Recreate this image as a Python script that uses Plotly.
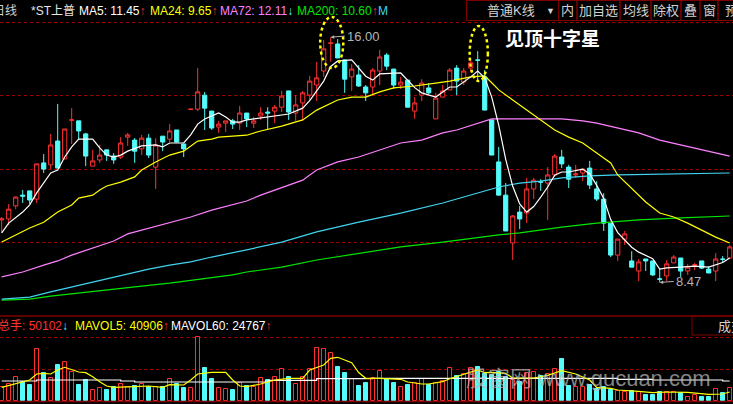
import plotly.graph_objects as go

W, H = 733, 404

RED = "#ff3232"
CYAN = "#54fcfc"
GRID = "#990000"
FRAME = "#800000"
TXT = "#d2d2d2"
FONT = "Liberation Sans, Noto Sans CJK SC, sans-serif"

# daily candles
days = list(range(105))
opens = [10.39, 10.42, 10.82, 11.15, 11.28, 11.03, 12.14, 12.08, 12.81, 12.26,
         13.45, 13.43, 13.03, 12.04, 12.23, 12.54, 12.35, 12.32, 12.93, 12.84,
         12.57, 12.90, 12.01, 12.96, 12.87, 13.15, 12.72, 13.78, 13.79, 14.22,
         13.73, 13.24, 13.36, 13.43, 13.36, 13.67, 13.36, 13.58, 13.70, 13.73,
         13.85, 14.35, 13.67, 13.98, 14.22, 14.53, 14.96, 15.81, 15.79, 15.30,
         14.78, 14.84, 14.47, 14.47, 14.96, 15.45, 15.02, 14.53, 14.68, 13.73,
         14.22, 14.44, 13.49, 14.16, 14.38, 15.05, 14.62, 15.05, 15.30, 14.78,
         13.46, 12.17, 11.15, 9.68, 10.63, 10.60, 11.34, 11.56, 11.52, 11.77,
         12.32, 12.01, 11.77, 11.83, 11.98, 11.34, 11.03, 10.29, 9.31, 9.80,
         9.13, 8.82, 9.19, 9.13, 8.58, 8.67, 9.07, 9.22, 8.82, 9.00,
         9.13, 8.88, 8.82, 9.19, 9.22]
highs = [10.48, 10.88, 11.12, 11.31, 11.28, 12.11, 12.41, 13.03, 13.95, 13.18,
         13.82, 13.43, 13.06, 12.54, 12.69, 12.54, 12.44, 12.93, 13.06, 12.90,
         13.00, 13.03, 12.90, 12.96, 13.33, 13.15, 12.72, 13.79, 15.05, 14.32,
         13.73, 13.43, 13.43, 13.49, 13.89, 13.67, 13.55, 13.85, 13.85, 13.92,
         14.35, 14.35, 14.22, 14.35, 14.81, 15.24, 15.91, 16.00, 15.94, 15.30,
         15.17, 15.14, 14.53, 15.05, 15.61, 15.51, 15.02, 14.78, 14.68, 14.16,
         14.71, 14.59, 14.29, 14.53, 15.05, 15.14, 15.05, 15.33, 15.57, 14.99,
         13.46, 12.63, 11.52, 10.54, 10.82, 11.68, 11.68, 11.64, 12.01, 12.41,
         12.54, 12.08, 12.08, 11.95, 12.20, 11.58, 11.21, 10.29, 9.80, 10.05,
         9.43, 9.19, 9.19, 9.13, 8.88, 9.16, 9.31, 9.22, 9.04, 9.07,
         9.13, 8.97, 9.37, 9.28, 9.62]
lows = [9.99, 10.23, 10.72, 10.91, 10.88, 10.91, 11.83, 11.95, 11.98, 12.26,
        12.72, 12.87, 12.04, 12.04, 12.14, 12.20, 12.11, 12.26, 12.66, 12.14,
        12.38, 12.29, 11.34, 12.50, 12.78, 12.78, 12.32, 13.78, 13.73, 13.15,
        13.15, 13.06, 13.09, 13.18, 13.15, 13.24, 13.21, 13.46, 13.18, 13.36,
        13.70, 13.46, 13.43, 13.43, 14.07, 14.04, 14.78, 15.24, 15.36, 14.29,
        14.35, 14.47, 14.04, 14.22, 14.53, 14.99, 14.41, 14.41, 13.85, 13.49,
        14.04, 14.25, 13.49, 14.16, 14.38, 14.22, 14.53, 14.93, 14.68, 13.76,
        12.38, 11.15, 10.05, 9.16, 10.11, 10.29, 11.03, 11.28, 10.39, 11.71,
        11.98, 11.37, 11.68, 11.58, 11.34, 10.97, 10.05, 9.25, 9.13, 9.62,
        8.94, 8.51, 8.82, 8.67, 8.47, 8.51, 9.07, 8.64, 8.70, 8.85,
        8.88, 8.76, 8.51, 9.07, 9.19]
closes = [10.42, 10.72, 11.09, 11.12, 11.00, 12.11, 11.95, 12.69, 11.98, 13.18,
          13.46, 13.12, 12.35, 12.20, 12.38, 12.38, 12.23, 12.75, 13.00, 12.50,
          12.90, 12.38, 12.69, 12.78, 13.12, 12.78, 12.57, 13.79, 14.32, 13.82,
          13.21, 13.33, 13.43, 13.33, 13.67, 13.49, 13.43, 13.67, 13.67, 13.85,
          14.19, 13.70, 13.92, 14.29, 14.65, 14.75, 15.64, 15.82, 15.36, 14.71,
          15.02, 14.50, 14.29, 14.99, 15.39, 15.11, 14.53, 14.62, 13.85, 13.98,
          14.59, 14.29, 14.13, 14.35, 14.99, 14.65, 14.96, 15.21, 15.29, 13.76,
          12.38, 11.15, 10.05, 10.51, 10.42, 11.34, 11.61, 11.55, 11.77, 12.35,
          12.11, 11.64, 11.80, 11.95, 11.46, 11.03, 10.29, 9.31, 9.80, 9.96,
          8.94, 9.10, 9.13, 8.70, 8.57, 9.04, 9.25, 8.82, 8.94, 9.01,
          8.91, 8.76, 9.19, 9.18, 9.56]
volumes = [14300, 17000, 24300, 19300, 16000, 51700, 27700, 22700, 36000, 38700,
           29000, 16000, 21300, 10700, 12700, 11000, 13700, 17000, 14300, 15000,
           17000, 14300, 13700, 13700, 21700, 17000, 13000, 13300, 63700, 32700,
           22000, 12700, 11700, 11000, 18000, 14700, 13700, 22700, 21000, 23700,
           31700, 23700, 17000, 24300, 31700, 52700, 51700, 47700, 33700, 28000,
           21700, 15000, 18000, 22700, 30000, 21700, 18300, 13700, 16000, 18300,
           21700, 16300, 17700, 20300, 32700, 25000, 27000, 32700, 34300, 27000,
           26000, 29300, 24300, 21000, 19300, 27700, 28700, 25000, 27000, 31700,
           42000, 15000, 13700, 13700, 16000, 12000, 13700, 11000, 10000, 9000,
           10300, 9000, 6000, 6000, 9300, 9300, 9300, 7700, 4300, 5700,
           3700, 4300, 11700, 7700, 12700]

# moving averages, sampled where they could be read
ma5_days = [0, 1, 3, 4, 5, 6, 7, 8, 9, 10, 11, 13, 14, 15, 16, 17, 18, 20, 22, 23,
            24, 26, 27, 28, 29, 31, 32, 33, 34, 35, 37, 39, 41, 43, 44, 45, 46, 47, 48, 50,
            51, 52, 53, 54, 57, 59, 60, 62, 64, 65, 67, 68, 69, 70, 71, 72, 73, 74, 75, 76,
            77, 78, 79, 80, 81, 83, 84, 85, 86, 87, 88, 90, 91, 93, 94, 95, 97, 99, 101, 103,
            104]
ma5 = [9.99, 10.29, 10.63, 10.85, 11.22, 11.52, 11.83, 11.92, 12.32, 12.63,
       12.87, 12.87, 12.60, 12.38, 12.32, 12.38, 12.50, 12.66, 12.69, 12.63,
       12.75, 12.75, 13.00, 13.33, 13.49, 13.67, 13.55, 13.39, 13.39, 13.46,
       13.52, 13.58, 13.64, 13.82, 14.05, 14.35, 14.65, 15.10, 15.27, 15.30,
       15.05, 14.80, 14.68, 14.87, 14.90, 14.45, 14.29, 14.16, 14.47, 14.47,
       14.78, 14.96, 14.75, 14.16, 13.30, 12.25, 11.42, 10.88, 10.63, 10.80,
       11.09, 11.40, 11.76, 11.86, 11.86, 11.95, 11.80, 11.45, 11.05, 10.40,
       10.00, 9.55, 9.40, 9.20, 8.88, 8.92, 8.94, 8.97, 8.94, 9.08,
       9.22]
ma24_days = [0, 3, 4, 6, 7, 8, 10, 11, 13, 14, 15, 17, 19, 20, 22, 24, 26, 27, 28, 30,
             31, 33, 35, 37, 40, 43, 45, 48, 50, 52, 54, 56, 59, 62, 64, 67, 69, 70, 71, 73,
             75, 77, 79, 81, 83, 85, 87, 88, 90, 92, 94, 96, 98, 100, 102, 104]
ma24 = [9.71, 10.02, 10.14, 10.32, 10.48, 10.63, 10.85, 11.06, 11.15, 11.31,
        11.43, 11.55, 11.71, 11.92, 12.17, 12.38, 12.50, 12.66, 12.81, 12.87,
        12.93, 12.96, 12.99, 13.12, 13.27, 13.46, 13.76, 14.07, 14.16, 14.16,
        14.32, 14.44, 14.50, 14.59, 14.65, 14.78, 14.81, 14.60, 14.38, 14.07,
        13.76, 13.46, 13.15, 12.93, 12.75, 12.44, 12.14, 11.77, 11.37, 10.94,
        10.60, 10.48, 10.29, 10.08, 9.86, 9.68]
ma72_days = [0, 3, 6, 8, 10, 13, 16, 18, 21, 24, 27, 30, 33, 35, 37, 40, 43, 45, 48, 51,
             54, 57, 60, 63, 65, 68, 70, 80, 83, 85, 88, 91, 94, 97, 100, 103, 104]
ma72 = [8.64, 8.79, 9.00, 9.13, 9.31, 9.53, 9.74, 9.96, 10.14, 10.32,
        10.48, 10.69, 10.85, 10.97, 11.15, 11.37, 11.61, 11.92, 12.17, 12.32,
        12.54, 12.75, 12.84, 13.06, 13.15, 13.36, 13.49, 13.49, 13.43, 13.36,
        13.21, 13.06, 12.84, 12.69, 12.54, 12.41, 12.35]
ma120_days = [0, 4, 7, 10, 13, 16, 18, 21, 24, 27, 30, 33, 35, 40, 45, 51, 57, 63, 68, 71,
              74, 77, 80, 84, 88, 96, 104]
ma120 = [7.96, 8.02, 8.18, 8.33, 8.48, 8.61, 8.73, 8.88, 9.00, 9.10,
         9.25, 9.37, 9.47, 9.71, 10.02, 10.32, 10.60, 10.91, 11.21, 11.40,
         11.52, 11.58, 11.68, 11.74, 11.77, 11.80, 11.83]
ma200_days = [0, 4, 7, 11, 16, 20, 24, 28, 33, 35, 40, 45, 51, 57, 63, 68, 71, 74, 80, 85,
              91, 97, 104]
ma200 = [7.93, 7.96, 8.05, 8.15, 8.27, 8.36, 8.45, 8.57, 8.70, 8.79,
         8.94, 9.16, 9.37, 9.56, 9.71, 9.86, 9.93, 9.99, 10.17, 10.29,
         10.39, 10.45, 10.51]

mavol5_days = [0, 2, 4, 5, 6, 7, 8, 9, 10, 11, 12, 13, 14, 15, 16, 17, 19, 21, 23, 24,
               26, 27, 28, 30, 32, 33, 34, 35, 37, 39, 41, 43, 44, 46, 47, 48, 50, 51, 52, 54,
               57, 58, 60, 61, 63, 64, 65, 67, 68, 69, 70, 72, 73, 76, 78, 80, 82, 84, 85, 87,
               88, 91, 93, 95, 98, 101, 103, 104]
mavol5 = [13700, 17000, 21000, 27000, 27700, 27000, 31000, 33700, 31000, 29000,
          28300, 24300, 19300, 15000, 13700, 13700, 14300, 15000, 13700, 16300,
          16000, 21000, 27000, 28700, 28700, 21000, 15000, 14300, 17000, 21000,
          22700, 22700, 31000, 36000, 42700, 43700, 38300, 28500, 22700, 22700,
          21700, 19000, 17000, 17000, 19300, 22300, 24300, 28300, 31000, 28300,
          28700, 27700, 23000, 23000, 25700, 30300, 27000, 21000, 13700, 12700,
          11000, 9700, 8300, 9000, 8700, 6700, 7000, 9000]
mavol60_days = [0, 5, 17, 19, 38, 45, 53, 88, 93, 103, 104]
mavol60 = [20000, 21000, 20000, 19000, 20700, 22300, 22700, 21700, 21000, 20000, 20000]

price_grid = [16.46, 14.22, 11.95, 9.71]
price_range = [7.44, 17.14]
vol_grid = [32000, 64000]
vol_range = [0, 85000]

header_items = [
    (77, "MA5: 11.45", "#ffffff", "↑", RED),
    (148, "MA24: 9.65", "#ffff00", "↑", RED),
    (218, "MA72: 12.11", "#ff80ff", "↓", CYAN),
    (295, "MA200: 10.60", "#00e600", "↑", RED),
]
vol_header_items = [
    (-4, "总手: 50102", RED, "↓", CYAN),
    (73, "MAVOL5: 40906", "#ffff00", "↑", RED),
    (169, "MAVOL60: 24767", "#ffffff", "↑", RED),
]
buttons = [(466.5, 558.5, ""), (558.5, 577, "内"), (577, 620, "加自选"), (620, 651, "均线"),
           (651, 681, "除权"), (681, 700, "叠"), (700, 718, "窗"), (718, 745, "预")]


def px(x):
	return x / W


def py(y):
	return 1 - y / H


def label(x, y, text, color, size=12, anchor="left", ref="paper"):
	if ref == "paper":
		x, y = px(x), py(y)
	return dict(x=x, y=y, xref="paper", yref="paper", text=text, showarrow=False,
	            xanchor=anchor, yanchor="middle",
	            font=dict(family=FONT, size=size, color=color))


def build():
	fig = go.Figure()

	fig.add_trace(go.Candlestick(
		x=days, open=opens, high=highs, low=lows, close=closes,
		increasing=dict(line=dict(color=RED, width=1), fillcolor="black"),
		decreasing=dict(line=dict(color=CYAN, width=1), fillcolor=CYAN),
		whiskerwidth=0, hoverinfo="skip", xaxis="x", yaxis="y"))

	for xs, ys, col in [(ma200_days, ma200, "#00e600"), (ma120_days, ma120, "#40d4f0"),
	                    (ma72_days, ma72, "#ff80ff"), (ma24_days, ma24, "#ffff00"),
	                    (ma5_days, ma5, "#ffffff")]:
		fig.add_trace(go.Scatter(x=xs, y=ys, mode="lines", line=dict(color=col, width=1.2),
		                         hoverinfo="skip", xaxis="x", yaxis="y"))

	up = [c >= o for o, c in zip(opens, closes)]
	fig.add_trace(go.Bar(
		x=[d for d, u in zip(days, up) if u], y=[v for v, u in zip(volumes, up) if u],
		width=0.55, marker=dict(color="black", line=dict(color=RED, width=1)),
		hoverinfo="skip", xaxis="x2", yaxis="y2"))
	fig.add_trace(go.Bar(
		x=[d for d, u in zip(days, up) if not u], y=[v for v, u in zip(volumes, up) if not u],
		width=0.55, marker=dict(color=CYAN, line=dict(color=CYAN, width=1)),
		hoverinfo="skip", xaxis="x2", yaxis="y2"))
	fig.add_trace(go.Scatter(x=mavol60_days, y=mavol60, mode="lines", line_shape="hv",
	                         line=dict(color="white", width=1.2), hoverinfo="skip",
	                         xaxis="x2", yaxis="y2"))
	fig.add_trace(go.Scatter(x=mavol5_days, y=mavol5, mode="lines",
	                         line=dict(color="#ffff00", width=1.2), hoverinfo="skip",
	                         xaxis="x2", yaxis="y2"))

	xr = [-0.243, 104.47]
	hidden_x = dict(range=xr, visible=False, showgrid=False, zeroline=False, fixedrange=True)
	grid_y = dict(showticklabels=False, ticks="", showgrid=True, gridcolor=GRID, griddash="dot",
	              gridwidth=1, zeroline=False, showline=False, fixedrange=True)

	shapes = []
	# pane borders
	for y in (316, 401.5):
		shapes.append(dict(type="line", xref="paper", yref="paper", x0=0, x1=1,
		                   y0=py(y), y1=py(y), line=dict(color=FRAME, width=1.5)))
	for x0, x1, _ in buttons:
		shapes.append(dict(type="rect", xref="paper", yref="paper", x0=px(x0), x1=px(x1),
		                   y0=py(0.5), y1=py(20.5), line=dict(color=FRAME, width=1)))
	shapes.append(dict(type="rect", xref="paper", yref="paper", x0=px(692), x1=px(745),
	                   y0=py(316), y1=py(335), line=dict(color=FRAME, width=1)))

	# dotted rings round the two tops
	for d, half, above, below in [(47, 1.65, 0.62, 0.95), (68, 1.3, 0.77, 0.92)]:
		shapes.append(dict(type="circle", xref="x", yref="y", x0=d + 0.15 - half, x1=d + 0.15 + half,
		                   y0=highs[d] - below, y1=highs[d] + above,
		                   line=dict(color="#ffff00", width=2.5, dash="dot")))

	ann = [label(19, 11, "日线", TXT, anchor="right"), label(29, 11, "*ST上普", "#e6e6e6")]
	for x, t, col, arrow, acol in header_items:
		ann.append(label(x, 11, f"{t}<span style='color:{acol}'>{arrow}</span>", col))
	ann.append(label(376, 11, "M", "#40d4f0"))
	for x0, x1, t in buttons[1:]:
		ann.append(label((x0 + x1) / 2, 10.5, t, TXT, size=13, anchor="center"))
	ann.append(label(511, 10.5, "普通K线", TXT, size=13, anchor="center"))
	ann.append(label(550, 10.5, "▼", TXT, size=9, anchor="center"))

	for x, t, col, arrow, acol in vol_header_items:
		ann.append(label(x, 325.5, f"{t}<span style='color:{acol}'>{arrow}</span>", col))
	ann.append(label(716, 326, "成交", TXT, size=13))

	hi = max(days, key=lambda i: highs[i])
	lo = min(days, key=lambda i: lows[i])
	for d, v in [(hi, highs[hi]), (lo, lows[lo])]:
		ann.append(dict(x=d, y=v, xref="x", yref="y", text=f"{v:.2f}", showarrow=True,
		                ax=14, ay=-1, xanchor="left", arrowhead=2, arrowsize=0.7,
		                arrowwidth=1, arrowcolor="#b4b4b4",
		                font=dict(family=FONT, size=13, color="#b4b4b4")))

	ann.append(label(552, 39.5, "<b>见顶十字星</b>", "#ffffff", size=19, anchor="center"))
	ann.append(label(588, 378, "股窗网 www.gucuan.com", "rgba(185,185,185,0.72)", size=22,
	                 anchor="center"))

	fig.update_layout(
		width=W, height=H, margin=dict(l=0, r=0, t=0, b=0),
		paper_bgcolor="black", plot_bgcolor="black", showlegend=False,
		boxgap=0.4, boxgroupgap=0, bargap=0, barmode="overlay",
		xaxis=dict(hidden_x, anchor="y", domain=[0, 1], rangeslider=dict(visible=False)),
		yaxis=dict(grid_y, anchor="x", domain=[py(316), 1], range=price_range,
		           tickvals=price_grid),
		xaxis2=dict(hidden_x, anchor="y2", domain=[0, 1]),
		yaxis2=dict(grid_y, anchor="x2", domain=[py(401), py(316)], range=vol_range,
		            tickvals=vol_grid),
		shapes=shapes, annotations=ann,
		font=dict(family=FONT, color=TXT),
	)
	return fig


def main():
	fig = build()
	fig.write_html("out.html", config=dict(displayModeBar=False),
	               post_script="document.body.style.margin='0';document.body.style.overflow='hidden';")


if __name__ == "__main__":
	main()
